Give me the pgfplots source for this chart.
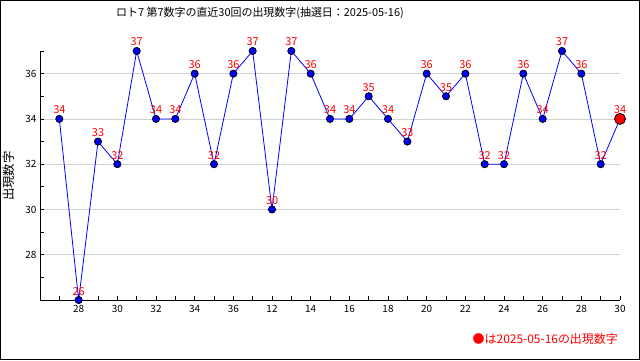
\documentclass[border=0pt]{standalone}
\usepackage{fontspec}
\setmainfont{Noto Sans CJK JP}
\usepackage{pgfplots}
\pgfplotsset{compat=1.18}
\begin{document}
\begin{tikzpicture}[x=1bp,y=1bp]
\useasboundingbox (0,0) rectangle (640,360);
\fill[white] (0,0) rectangle (640,360);
\draw[black, line width=1bp] (0.5,0.5) rectangle (639.5,359.5);
\begin{axis}[
  at={(40bp,60bp)}, anchor=south west,
  scale only axis, width=580bp, height=249bp,
  xmin=0, xmax=30, ymin=26, ymax=37,
  axis lines=left, axis line style={-, black, line width=1bp},
  xtick={2,4,...,30},
  xticklabels={28,30,32,34,36,12,14,16,18,20,22,24,26,28,30},
  minor xtick={1,3,...,29},
  ytick={28,30,32,34,36},
  minor ytick={27,29,...,37},
  tick align=inside,
  major tick length=4bp, minor tick length=4bp,
  tick style={black, line width=0.8bp},
  ymajorgrids, major grid style={black!18, line width=0.8bp},
  /pgf/number format/assume math mode=true,
  tick label style={font=\fontsize{10}{12}\selectfont},
  xticklabel style={yshift=-2bp},
  clip=false,
]
\addplot[blue, line width=0.8bp, mark=*, mark size=3.6bp,
  mark options={fill=blue, draw=black, line width=0.8bp},
  nodes near coords,
  every node near coord/.style={red, font=\fontsize{11}{13}\selectfont, anchor=base, inner sep=0pt, yshift=5bp}]
  coordinates {
  (1,34)(2,26)(3,33)(4,32)(5,37)(6,34)(7,34)(8,36)(9,32)(10,36)
  (11,37)(12,30)(13,37)(14,36)(15,34)(16,34)(17,35)(18,34)(19,33)(20,36)
  (21,35)(22,36)(23,32)(24,32)(25,36)(26,34)(27,37)(28,36)(29,32)(30,34)
  };
\addplot[only marks, mark=*, mark size=5.5bp,
  mark options={fill=red, draw=black, line width=0.8bp}]
  coordinates {(30,34)};
\end{axis}
\node[font=\fontsize{11}{13}\selectfont] at (260,347) {ロト7 第7数字の直近30回の出現数字(抽選日：2025-05-16)};
\node[rotate=90, font=\fontsize{12.5}{14}\selectfont] at (9,184) {出現数字};
\node[anchor=east, red, font=\fontsize{12}{14}\selectfont, inner sep=0pt] at (618,21) {●は2025-05-16の出現数字};
\end{tikzpicture}
\end{document}
